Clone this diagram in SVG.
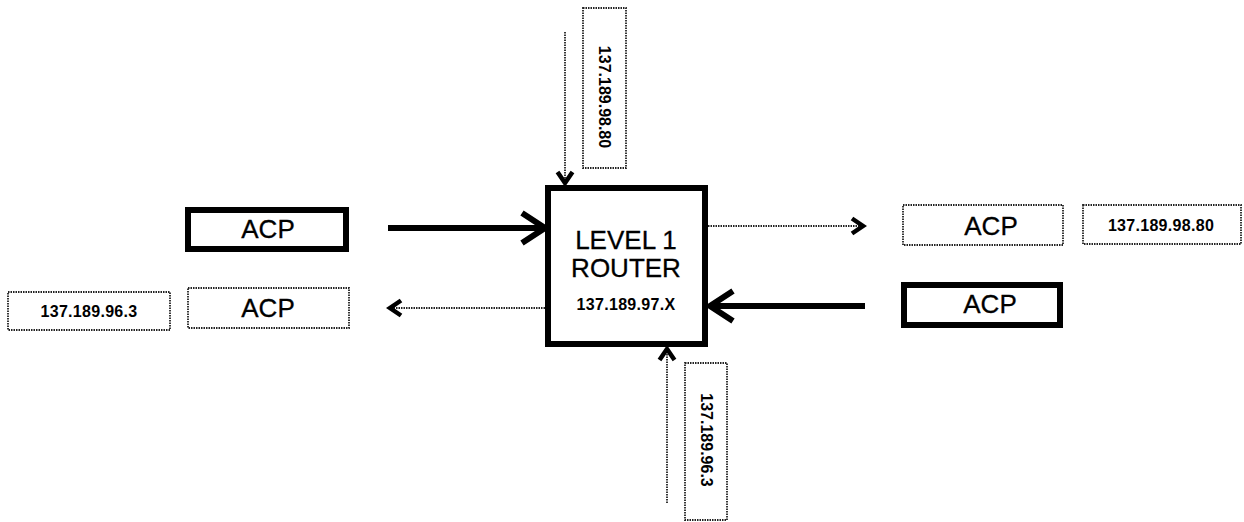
<svg xmlns="http://www.w3.org/2000/svg" width="1244" height="522" viewBox="0 0 1244 522">
<style>
.thick{fill:#fff;stroke:#000;stroke-width:6}
.dot{fill:#fff;stroke:#222;stroke-width:1.8;stroke-dasharray:1.5 1}
.big{font-family:"Liberation Sans",Arial,sans-serif;font-size:26px;fill:#000;text-anchor:middle;stroke:#000;stroke-width:0.3}
.lbl{font-family:"Liberation Sans",Arial,sans-serif;font-size:16px;font-weight:bold;fill:#000;text-anchor:middle;letter-spacing:0.3px}
.vlbl{font-family:"Liberation Sans",Arial,sans-serif;font-size:16px;font-weight:bold;fill:#000;text-anchor:middle;dominant-baseline:central}
.tline{fill:none;stroke:#000;stroke-width:6}
.dline{fill:none;stroke:#222;stroke-width:1.8;stroke-dasharray:1.5 1}
.dhead{fill:none;stroke:#000;stroke-width:4.5}
</style>
<defs>
<marker id="thickHead" markerUnits="userSpaceOnUse" viewBox="-30 -20 34 40" markerWidth="34" markerHeight="40" refX="0" refY="0" orient="auto" overflow="visible">
<path d="M-23,-15 L0,0 L-23,15" fill="none" stroke="#000" stroke-width="6"/>
</marker>
</defs>
<rect width="1244" height="522" fill="#fff"/>
<g id="connectors">
<line class="tline" x1="388" y1="228" x2="545" y2="228" marker-end="url(#thickHead)"/>
<line class="tline" x1="865" y1="306" x2="710" y2="306" marker-end="url(#thickHead)"/>
<line class="dline" x1="545" y1="308" x2="391" y2="308"/>
<polyline class="dhead" points="401,300.5 390,308 401,315.5"/>
<line class="dline" x1="708" y1="226" x2="862" y2="226"/>
<polyline class="dhead" points="852,218.5 863,226 852,233.5"/>
<line class="dline" x1="565" y1="32" x2="565" y2="182"/>
<polyline class="dhead" points="557.5,172 565,183 572.5,172"/>
<line class="dline" x1="667" y1="503" x2="667" y2="350"/>
<polyline class="dhead" points="659.5,360 667,349 674.5,360"/>
</g>
<g id="router">
<rect class="thick" x="548" y="188" width="157" height="156"/>
<text class="big" x="626" y="249">LEVEL 1</text>
<text class="big" x="626" y="277">ROUTER</text>
<text class="lbl" x="626" y="310">137.189.97.X</text>
</g>
<g id="acp-left-top">
<rect class="thick" x="188" y="210" width="158" height="39"/>
<text class="big" x="268" y="238">ACP</text>
</g>
<g id="acp-left-bottom">
<rect class="dot" x="188" y="288" width="161" height="40"/>
<text class="big" x="268" y="317">ACP</text>
</g>
<g id="label-left">
<rect class="dot" x="8" y="292" width="162" height="38"/>
<text class="lbl" x="89" y="317">137.189.96.3</text>
</g>
<g id="acp-right-top">
<rect class="dot" x="903" y="205" width="160" height="40"/>
<text class="big" x="991" y="235">ACP</text>
</g>
<g id="label-right">
<rect class="dot" x="1083" y="205" width="158" height="39"/>
<text class="lbl" x="1161" y="231">137.189.98.80</text>
</g>
<g id="acp-right-bottom">
<rect class="thick" x="904" y="285" width="156" height="40"/>
<text class="big" x="990" y="313">ACP</text>
</g>
<g id="label-top">
<rect class="dot" x="583" y="8" width="43" height="160"/>
<text class="vlbl" transform="translate(604,97) rotate(90)">137.189.98.80</text>
</g>
<g id="label-bottom">
<rect class="dot" x="685" y="363" width="42" height="157"/>
<text class="vlbl" transform="translate(706,440) rotate(90)">137.189.96.3</text>
</g>
</svg>
